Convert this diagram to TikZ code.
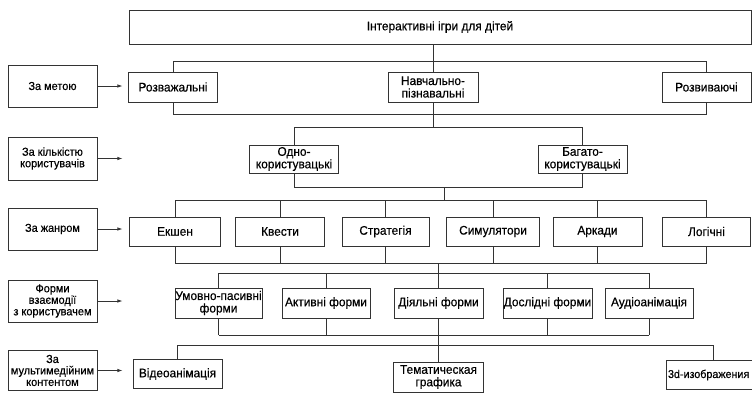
\documentclass[tikz,border=0pt]{standalone}
\usepackage{fontspec}
\setmainfont{Liberation Sans}[FakeStretch=0.95, FakeBold=0.4]
\usepackage{tikz}
\usetikzlibrary{arrows.meta, positioning, calc}
\definecolor{myLine}{HTML}{333333}

\begin{document}
\begin{tikzpicture}[
x=1pt, y=-1pt,
box/.style={
draw=myLine,
line width=0.8pt,
fill=white,
inner sep=0pt,
align=center,
font=\fontsize{12.5}{12.5}\selectfont
},
cat/.style={box, minimum width=89, minimum height=42, font=\fontsize{11.5}{11.5}\selectfont},
item/.style={box, minimum width=89, minimum height=30},
link/.style={myLine, line width=0.8pt},
arrow/.style={-{Latex[length=5pt, width=3.5pt]}, myLine, line width=0.7pt}
]

\useasboundingbox (0,0) rectangle (752,392);

\coordinate (bar1t) at (0,61);
\coordinate (bar1b) at (0,114);
\coordinate (bar2t) at (0,127);
\coordinate (bar2b) at (0,187);
\coordinate (bar3t) at (0,200);
\coordinate (bar3b) at (0,263);
\coordinate (bar4t) at (0,273);
\coordinate (bar4b) at (0,335);
\coordinate (bar5) at (0,345);
\coordinate (join2) at (444,187);


\node[box, minimum width=622, minimum height=34] (games) at (440,27)
{Інтерактивні ігри для дітей};

\node[cat] (meta) at (52.5,86) {За метою};
\node[cat, minimum height=43] (kilkist) at (52.5,158.5) {За кількістю\\користувачів};
\node[cat] (zhanr) at (52.5,229) {За жанром};
\node[cat] (formy) at (52.5,301) {Форми\\взаємодії\\з користувачем};
\node[cat, minimum height=40] (multi) at (52.5,370.5) {За\\мультимедійним\\контентом};


\node[item] (rozvazh) at (173,87) {Розважальні};
\node[item, minimum width=90] (navch) at (433,87) {Навчально-\\пізнавальні};
\node[item] (rozvyv) at (706.5,87) {Розвиваючі};

\node[item, minimum height=28] (odno) at (294,159) {Одно-\\користувацькі};
\node[item, minimum height=28] (bagato) at (582.5,159) {Багато-\\користувацькі};

\node[item, minimum width=91, minimum height=29] (ekshen) at (175,231.5) {Екшен};
\node[item, minimum height=29] (kvesty) at (280,231.5) {Квести};
\node[item, minimum width=87, minimum height=29] (strat) at (385.5,231.5) {Стратегія};
\node[item, minimum width=93, minimum height=29] (sym) at (493,231.5) {Симулятори};
\node[item, minimum height=29] (arkady) at (597.5,231.5) {Аркади};
\node[item, minimum width=88, minimum height=29] (logichni) at (706.5,231.5) {Логічні};

\node[item, minimum width=87] (umovno) at (218.5,303) {Умовно-пасивні\\форми};
\node[item, minimum width=88] (aktyvni) at (326,303) {Активні форми};
\node[item] (diyalni) at (438.5,303) {Діяльні форми};
\node[item] (doslidni) at (547.5,303) {Дослідні форми};
\node[item, minimum width=88] (audio) at (649,303) {Аудіоанімація};

\node[item, minimum height=29] (video) at (177.5,374) {Відеоанімація};
\node[item, minimum width=90] (tematych) at (438.5,377) {Тематическая\\графика};
\node[item, minimum width=94, minimum height=29, text width=90, align=left,
font=\fontsize{11.3}{11.3}\selectfont] (trid) at (713,375) {\mbox{3d-изображения}};


\foreach \c in {meta, kilkist, zhanr, formy, multi}
\draw[arrow] (\c.east) -- +(25,0);

\draw[link] (navch.north) -- (navch.north |- games.south);
\draw[link] (rozvazh.north) |- (bar1t -| rozvyv) -- (rozvyv.north);
\draw[link] (rozvazh.south) |- (bar1b -| rozvyv) -- (rozvyv.south);

\draw[link] (navch.south) -- (navch.south |- bar2t);
\draw[link] (odno.north) |- (bar2t -| bagato) -- (bagato.north);
\draw[link] (odno.south) |- (bar2b -| bagato) -- (bagato.south);
\draw[link] (join2) -- (join2 |- bar3t);

\draw[link] (bar3t -| ekshen) -- (bar3t -| logichni);
\draw[link] (bar3b -| ekshen) -- (bar3b -| logichni);
\foreach \g in {ekshen, kvesty, strat, sym, arkady, logichni} {
\draw[link] (\g.north) -- (\g.north |- bar3t);
\draw[link] (\g.south) -- (\g.south |- bar3b);
}

\draw[link] (diyalni.north) -- (diyalni.north |- bar3b);
\draw[link] (bar4t -| umovno) -- (bar4t -| audio);
\draw[link] (bar4b -| umovno) -- (bar4b -| audio);
\foreach \f in {umovno, aktyvni, doslidni, audio} {
\draw[link] (\f.north) -- (\f.north |- bar4t);
\draw[link] (\f.south) -- (\f.south |- bar4b);
}

\draw[link] (diyalni.south) -- (tematych.north);
\draw[link] (video.north) |- (bar5 -| trid) -- (trid.north);

\end{tikzpicture}
\end{document}
